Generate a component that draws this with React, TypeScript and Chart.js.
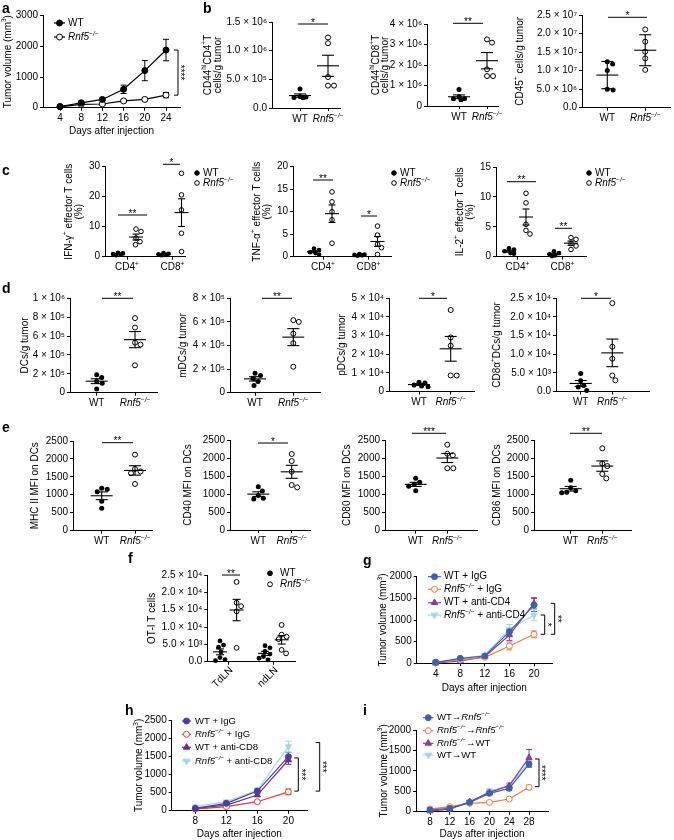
import React, { useEffect, useMemo, useRef } from 'react';
import { Chart, registerables } from 'chart.js';

Chart.register(...registerables);

const FONT = "'Liberation Sans', Arial, Helvetica, sans-serif";

/* ======================= DATA ======================= */
const genotypeCats = ['WT', '*Rnf5^{−/−}*'];
const subsetCats = ['CD4^{+}', 'CD8^{+}'];
const lnCats = ['TdLN', 'ndLN'];

// a – tumour growth
const aDays = [4, 8, 12, 16, 20, 24];
const aWT = [40, 160, 270, 600, 1210, 1880];
const aWTErr = [15, 30, 40, 135, 330, 350];
const aKO = [30, 110, 120, 220, 270, 410];
const aKOErr = [10, 20, 30, 40, 45, 85];
const aYTicks = [0, 1000, 2000, 3000];
const aYLabels = ['0', '1000', '2000', '3000'];

// b
const b1WT = [3.3e5, 2.0e5, 1.9e5, 1.85e5, 1.8e5];
const b1KO = [1.23e6, 1.13e6, 5.4e5, 3.9e5, 3.9e5];
const b1YTicks = [0, 5e5, 1e6, 1.5e6];
const b1YLabels = ['0.0', '5.0 × 10⁵', '1.0 × 10⁶', '1.5 × 10⁶'];
const b2WT = [8.0e5, 4.5e5, 3.5e5, 3.5e5, 3.0e5];
const b2KO = [3.25e6, 3.09e6, 1.79e6, 1.46e6, 1.46e6];
const b2YTicks = [0, 1e6, 2e6, 3e6, 4e6];
const b2YLabels = ['0', '1 × 10⁶', '2 × 10⁶', '3 × 10⁶', '4 × 10⁶'];
const b3WT = [1.24e7, 1.18e7, 1.0e7, 0.5e7, 0.48e7];
const b3KO = [2.11e7, 1.78e7, 1.51e7, 1.33e7, 1.02e7];
const b3YTicks = [0, 5e6, 1e7, 1.5e7, 2e7, 2.5e7];
const b3YLabels = ['0.0', '5.0 × 10⁶', '1.0 × 10⁷', '1.5 × 10⁷', '2.0 × 10⁷', '2.5 × 10⁷'];

// c – effector T cells (%)
const c1WT4 = [1.3, 1.1, 0.9, 0.7, 0.5];
const c1KO4 = [9.2, 8.4, 6.2, 5.0, 4.0];
const c1WT8 = [1.2, 1.0, 0.8, 0.6, 0.5];
const c1KO8 = [27.8, 20.6, 15.6, 7.8, 1.7];
const c1YTicks = [0, 10, 20, 30];
const c2WT4 = [1.8, 1.5, 1.0, 0.8, 0.5];
const c2KO4 = [14.4, 12.2, 10.0, 8.2, 3.0];
const c2WT8 = [0.6, 0.5, 0.4, 0.3, 0.2];
const c2KO8 = [6.8, 4.8, 2.8, 2.0, 0.5];
const c2YTicks = [0, 5, 10, 15, 20];
const c3WT4 = [1.4, 1.2, 0.9, 0.6, 0.5];
const c3KO4 = [10.6, 9.0, 5.4, 4.4, 3.8];
const c3WT8 = [0.9, 0.6, 0.4, 0.2, 0.1];
const c3KO8 = [3.2, 2.9, 2.2, 1.8, 1.2];
const c3YTicks = [0, 5, 10, 15];

// d – DC subsets
const d1WT = [1.9e5, 1.6e5, 1.2e5, 1.0e5, 0.4e5];
const d1KO = [7.9e5, 6.9e5, 5.3e5, 5.1e5, 2.9e5];
const d1YTicks = [0, 2e5, 4e5, 6e5, 8e5, 1e6];
const d1YLabels = ['0', '2 × 10⁵', '4 × 10⁵', '6 × 10⁵', '8 × 10⁵', '1 × 10⁶'];
const d2WT = [1.65e5, 1.45e5, 1.2e5, 0.95e5, 0.6e5];
const d2KO = [6.15e5, 6.0e5, 5.0e5, 4.2e5, 2.2e5];
const d2YTicks = [0, 2e5, 4e5, 6e5, 8e5];
const d2YLabels = ['0', '2 × 10⁵', '4 × 10⁵', '6 × 10⁵', '8 × 10⁵'];
const d3WT = [5.0e3, 4.5e3, 3.5e3, 3.0e3, 2.5e3];
const d3KO = [4.37e4, 2.9e4, 2.46e4, 0.86e4, 0.86e4];
const d3YTicks = [0, 1e4, 2e4, 3e4, 4e4, 5e4];
const d3YLabels = ['0', '1 × 10⁴', '2 × 10⁴', '3 × 10⁴', '4 × 10⁴', '5 × 10⁴'];
const d4WT = [4.8e3, 2.9e3, 1.6e3, 1.2e3, 0.3e3];
const d4KO = [2.37e4, 1.2e4, 8.8e3, 4.3e3, 3.0e3];
const d4YTicks = [0, 5e3, 1e4, 1.5e4, 2e4, 2.5e4];
const d4YLabels = ['0.0', '5.0 × 10³', '1.0 × 10⁴', '1.5 × 10⁴', '2.0 × 10⁴', '2.5 × 10⁴'];

// e – MFI on DCs
const e1WT = [1180, 1150, 1080, 820, 620];
const e1KO = [2120, 1720, 1650, 1600, 1300];
const e2WT = [1200, 1080, 960, 880, 860];
const e2KO = [2110, 1915, 1620, 1250, 1185];
const e3WT = [1440, 1330, 1280, 1220, 1100];
const e3KO = [2370, 2120, 2080, 1720, 1720];
const e4WT = [1390, 1180, 1100, 1060, 1040];
const e4KO = [2270, 1850, 1780, 1560, 1440];
const eYTicks = [0, 500, 1000, 1500, 2000, 2500];

// f – OT-I T cells
const fTdWT = [6.0e3, 4.8e3, 4.2e3, 2.8e3, 1.2e3, 0.6e3, 0.3e3];
const fTdKO = [2.3e4, 1.7e4, 1.6e4, 1.45e4, 4.0e3];
const fNdWT = [4.6e3, 4.0e3, 3.0e3, 2.2e3, 1.5e3, 1.0e3, 0.5e3];
const fNdKO = [1.06e4, 7.8e3, 7.2e3, 6.5e3, 3.4e3, 2.4e3];
const fYTicks = [0, 5e3, 1e4, 1.5e4, 2e4, 2.5e4];
const fYLabels = ['0.0', '5.0 × 10³', '1.0 × 10⁴', '1.5 × 10⁴', '2.0 × 10⁴', '2.5 × 10⁴'];

// g – CD4 depletion
const gDays = [4, 8, 12, 16, 20];
const gWTIgG = [23, 115, 169, 731, 1346];
const gWTIgGErr = [8, 20, 25, 90, 150];
const gKOIgG = [23, 77, 138, 400, 669];
const gKOIgGErr = [8, 15, 20, 90, 80];
const gWTcd4 = [2, 54, 154, 654, 1385];
const gWTcd4Err = [4, 12, 20, 130, 130];
const gKOcd4 = [23, 100, 192, 785, 1115];
const gKOcd4Err = [8, 20, 25, 110, 130];
const gYTicks = [0, 500, 1000, 1500, 2000];

// h – CD8 depletion
const hDays = [8, 12, 16, 20];
const hWTIgG = [64, 202, 542, 1489];
const hWTIgGErr = [15, 30, 50, 120];
const hKOIgG = [46, 110, 248, 520];
const hKOIgGErr = [10, 20, 30, 80];
const hWTcd8 = [64, 156, 432, 1397];
const hWTcd8Err = [12, 25, 40, 120];
const hKOcd8 = [110, 248, 570, 1765];
const hKOcd8Err = [20, 30, 50, 150];
const hYTicks = [0, 500, 1000, 1500, 2000, 2500];

// i – bone-marrow chimeras
const iDays = [8, 12, 16, 20, 24, 28];
const iWTtoKO = [41, 82, 229, 449, 571, 1167];
const iWTtoKOErr = [10, 15, 30, 40, 50, 80];
const iKOtoKO = [65, 122, 204, 229, 310, 596];
const iKOtoKOErr = [10, 15, 20, 25, 30, 50];
const iKOtoWT = [16, 65, 245, 473, 637, 1322];
const iKOtoWTErr = [8, 15, 30, 50, 60, 200];
const iWTtoWT = [49, 82, 204, 506, 629, 1208];
const iWTtoWTErr = [10, 15, 30, 50, 60, 100];
const iYTicks = [0, 500, 1000, 1500, 2000];

/* ======================= COLOURS ======================= */
const C_BLUE = '#3f5fab';
const C_ORANGE = '#ee7a45';
const C_PURPLE = '#8e3c9a';
const C_LBLUE = '#9fd6ec';
const C_INDIGO = '#4a3d9e';
const C_RED = '#e03c2e';
const C_DPURPLE = '#6f2d8c';

/* ======================= HELPERS ======================= */
const mean = (a: number[]) => a.reduce((s, v) => s + v, 0) / a.length;
const sd = (a: number[]) => {
  const m = mean(a);
  return Math.sqrt(a.reduce((s, v) => s + (v - m) * (v - m), 0) / (a.length - 1));
};
const sem = (a: number[]) => sd(a) / Math.sqrt(a.length);

type Seg = { t: string; it: boolean; sup: boolean };
function parseRich(s: string): Seg[] {
  const out: Seg[] = [];
  let it = false, sup = false, buf = '';
  const flush = () => { if (buf) out.push({ t: buf, it, sup }); buf = ''; };
  for (let i = 0; i < s.length; i++) {
    const c = s[i];
    if (c === '*' && s.length > 1 && !/^\*+$/.test(s)) { flush(); it = !it; continue; }
    if (c === '^' && s[i + 1] === '{') { flush(); sup = true; i++; continue; }
    if (c === '}' && sup) { flush(); sup = false; continue; }
    buf += c;
  }
  flush();
  return out;
}
function setFont(ctx: CanvasRenderingContext2D, size: number, it: boolean, bold = false) {
  ctx.font = `${it ? 'italic ' : ''}${bold ? 'bold ' : ''}${size}px ${FONT}`;
}
function drawRich(ctx: CanvasRenderingContext2D, text: string, x: number, y: number, size: number, align = 'center', color = '#000') {
  const segs = parseRich(text);
  let w = 0;
  for (const s of segs) { setFont(ctx, s.sup ? size * 0.65 : size, s.it); w += ctx.measureText(s.t).width; }
  let cx = align === 'center' ? x - w / 2 : align === 'right' ? x - w : x;
  ctx.save();
  ctx.fillStyle = color;
  ctx.textBaseline = 'middle';
  ctx.textAlign = 'left';
  for (const s of segs) {
    const fs = s.sup ? size * 0.65 : size;
    setFont(ctx, fs, s.it);
    ctx.fillText(s.t, cx, s.sup ? y - size * 0.33 : y);
    cx += ctx.measureText(s.t).width;
  }
  ctx.restore();
}
function drawRichRot(ctx: CanvasRenderingContext2D, text: string, x: number, y: number, size: number, ang: number, align = 'center') {
  ctx.save();
  ctx.translate(x, y);
  ctx.rotate(ang);
  drawRich(ctx, text, 0, 0, size, align);
  ctx.restore();
}
function drawStars(ctx: CanvasRenderingContext2D, t: string, cx: number, cy: number, rot: boolean) {
  ctx.save();
  ctx.fillStyle = '#000';
  ctx.font = `10px ${FONT}`;
  ctx.textAlign = 'center';
  ctx.textBaseline = 'alphabetic';
  if (rot) {
    ctx.translate(cx, cy);
    ctx.rotate(Math.PI / 2);
    ctx.fillText(t, 0, 5.7);
  } else {
    ctx.fillText(t, cx, cy + 5.7);
  }
  ctx.restore();
}
function seg(ctx: CanvasRenderingContext2D, xa: number, ya: number, xb: number, yb: number, color = '#000', lw = 1) {
  ctx.save();
  ctx.strokeStyle = color;
  ctx.lineWidth = lw;
  ctx.beginPath();
  ctx.moveTo(xa, ya);
  ctx.lineTo(xb, yb);
  ctx.stroke();
  ctx.restore();
}
function drawMarker(ctx: CanvasRenderingContext2D, kind: string, x: number, y: number, r: number, color: string, filled: boolean) {
  ctx.save();
  ctx.beginPath();
  if (kind === 'circle') ctx.arc(x, y, r, 0, Math.PI * 2);
  else {
    const d = kind === 'up' ? 1 : -1;
    const rr = r * 1.25;
    ctx.moveTo(x, y - d * rr);
    ctx.lineTo(x + rr * 0.866, y + d * rr * 0.5);
    ctx.lineTo(x - rr * 0.866, y + d * rr * 0.5);
    ctx.closePath();
  }
  ctx.fillStyle = filled ? color : '#fff';
  ctx.fill();
  ctx.strokeStyle = color;
  ctx.lineWidth = 1;
  ctx.stroke();
  ctx.restore();
}
// deterministic beeswarm: offsets in px for each value
function swarm(vals: number[], ppv: number, D: number, maxSpread: number): number[] {
  const order = vals.map((_, i) => i).sort((a, b) => vals[b] - vals[a]);
  const placed: { x: number; y: number }[] = [];
  const out = new Array(vals.length).fill(0);
  for (const i of order) {
    const y = vals[i] * ppv;
    let best = 0, bestD = -1;
    const cands: number[] = [0];
    for (let k = 0.5; k <= maxSpread + 1e-9; k += 0.5) { cands.push(k, -k); }
    for (const c of cands) {
      let md = Infinity;
      for (const p of placed) md = Math.min(md, Math.hypot(p.x - c, p.y - y));
      if (md >= D) { best = c; bestD = Infinity; break; }
      if (md > bestD) { bestD = md; best = c; }
    }
    placed.push({ x: best, y });
    out[i] = best;
  }
  return out;
}

function axisCommon() {
  return {
    grid: { display: true, drawOnChartArea: false, drawTicks: true, tickLength: 3, color: '#000', lineWidth: 1 },
    border: { display: true, color: '#000', width: 1 },
  };
}

type Built = { x: number; y: number; w: number; h: number; config: any };

/* ======================= DOT PLOT ======================= */
type DotGroup = { vals: number[]; cat: number; side: number; filled: boolean };
type DotSpec = {
  L: number; T: number; R: number; B: number;
  catPx: number[]; sidePx?: number;
  yMax: number; yTicks: number[]; yLabels: string[];
  groups: DotGroup[]; err?: string;
  cats: string[]; rotCats?: boolean;
  sig: { x1: number; x2: number; y: number; t: string }[];
  title: string[]; titleX: number; lineGap?: number;
  legend?: { x: number; y1: number; y2: number; tx: number };
  meanHalf?: number; capHalf?: number; r?: number; spread?: number;
};

function buildDot(sp: DotSpec): Built {
  const x0 = Math.max(0, Math.round(sp.L - 115));
  const y0 = Math.max(0, Math.round(sp.T - 30));
  const x1 = Math.min(674, Math.round(sp.R + 80));
  const y1 = Math.min(840, Math.round(sp.B + 50));
  const W = x1 - x0, H = y1 - y0;
  const XH = 15;
  const unit = sp.catPx[1] - sp.catPx[0];
  const xmin = (sp.L - sp.catPx[0]) / unit;
  const xmax = (sp.R - sp.catPx[0]) / unit;
  const side = (sp.sidePx || 0) / unit;
  const ppv = (sp.B - sp.T) / sp.yMax;
  const r = sp.r ?? 2.5;
  const mh = sp.meanHalf ?? 11, ch = sp.capHalf ?? 6;
  const gap = sp.lineGap ?? 10;
  const gx = (g: DotGroup) => g.cat + g.side * side;
  const datasets = sp.groups.map((g) => {
    const offs = swarm(g.vals, ppv, 2 * r + 0.6, sp.spread ?? 9);
    return {
      type: 'scatter',
      data: g.vals.map((v, i) => ({ x: gx(g) + offs[i] / unit, y: v })),
      pointRadius: r,
      pointHoverRadius: r,
      pointBackgroundColor: g.filled ? '#000' : 'rgba(0,0,0,0)',
      pointBorderColor: '#000',
      pointBorderWidth: g.filled ? 0 : 1,
      clip: false,
    };
  });
  const plugin = {
    id: 'dotDecor',
    beforeDatasetsDraw(chart: any) {
      const ctx = chart.ctx, xs = chart.scales.x, ys = chart.scales.y;
      sp.groups.forEach((g) => {
        const m = mean(g.vals);
        const e = sp.err === 'sd' ? sd(g.vals) : sem(g.vals);
        const cx = xs.getPixelForValue(gx(g));
        const ym = ys.getPixelForValue(m);
        const yt = ys.getPixelForValue(m + e);
        const yb = ys.getPixelForValue(Math.max(0, m - e));
        seg(ctx, cx - mh, ym, cx + mh, ym, '#000', 1.1);
        seg(ctx, cx, yt, cx, yb, '#000', 1.1);
        seg(ctx, cx - ch, yt, cx + ch, yt, '#000', 1.1);
        seg(ctx, cx - ch, yb, cx + ch, yb, '#000', 1.1);
      });
    },
    afterDraw(chart: any) {
      const ctx = chart.ctx, xs = chart.scales.x, ys = chart.scales.y;
      const base = ys.getPixelForValue(0);
      sp.cats.forEach((c, i) => {
        const px = xs.getPixelForValue(i);
        if (sp.rotCats) drawRichRot(ctx, c, px + 3, base + 7, 10, -Math.PI / 4, 'right');
        else drawRich(ctx, c, px, base + 11, 10, 'center');
      });
      sp.sig.forEach((s) => {
        seg(ctx, s.x1 - x0, s.y - y0, s.x2 - x0, s.y - y0, '#000', 1);
        drawStars(ctx, s.t, (s.x1 + s.x2) / 2 - x0, s.y - y0 - 4, false);
      });
      const cy = (sp.T + sp.B) / 2 - y0;
      sp.title.forEach((t, i) => drawRichRot(ctx, t, sp.titleX + i * gap - x0, cy, 10, -Math.PI / 2, 'center'));
      if (sp.legend) {
        const lg = sp.legend;
        drawMarker(ctx, 'circle', lg.x - x0, lg.y1 - y0, r, '#000', true);
        drawRich(ctx, genotypeCats[0], lg.tx - x0, lg.y1 - y0, 10, 'left');
        drawMarker(ctx, 'circle', lg.x - x0, lg.y2 - y0, r, '#000', false);
        drawRich(ctx, genotypeCats[1], lg.tx - x0, lg.y2 - y0, 10, 'left');
      }
    },
  };
  const ac = axisCommon();
  const config = {
    type: 'scatter',
    data: { datasets },
    options: {
      animation: false,
      responsive: false,
      devicePixelRatio: 1,
      events: [],
      layout: { padding: { left: 0, top: sp.T - y0, right: x1 - sp.R, bottom: y1 - sp.B - XH } },
      plugins: { legend: { display: false }, tooltip: { enabled: false } },
      scales: {
        x: {
          type: 'linear', position: 'bottom', min: xmin, max: xmax,
          afterBuildTicks: (s: any) => { s.ticks = sp.cats.map((_, i) => ({ value: i })); },
          afterFit: (s: any) => { s.height = XH; },
          ...ac,
          ticks: { display: false },
        },
        y: {
          type: 'linear', position: 'left', min: 0, max: sp.yMax,
          afterBuildTicks: (s: any) => { s.ticks = sp.yTicks.map((v) => ({ value: v })); },
          afterFit: (s: any) => { s.width = sp.L - x0; },
          ...ac,
          ticks: {
            display: true, autoSkip: false, padding: 2, color: '#000',
            font: { family: FONT, size: 10 },
            callback: (_v: any, i: number) => sp.yLabels[i] ?? '',
          },
        },
      },
    },
    plugins: [plugin],
  };
  return { x: x0, y: y0, w: W, h: H, config };
}

/* ======================= GROWTH CURVES ======================= */
type Series = { label: string; vals: number[]; errs: number[]; color: string; marker: string; filled: boolean };
type GrowthSpec = {
  L: number; T: number; R: number; B: number;
  d0: number; p0: number; d1: number; p1: number;
  days: number[]; yMax: number; yTicks: number[]; yLabels: string[];
  series: Series[];
  legend: { x0: number; x1: number; tx: number; ys: number[]; size: number };
  brackets: { x: number; top: number; bot: number; t: string }[];
  title: string; titleX: number; xTitleY: number; r: number;
};

function buildGrowth(sp: GrowthSpec): Built {
  const x0 = Math.max(0, Math.round(sp.L - 60));
  const y0 = Math.max(0, Math.round(sp.T - 30));
  const x1 = Math.min(674, Math.round(sp.R + 40));
  const y1 = Math.min(840, Math.round(sp.B + 34));
  const W = x1 - x0, H = y1 - y0;
  const XH = 16;
  const ppd = (sp.p1 - sp.p0) / (sp.d1 - sp.d0);
  const xmin = sp.d0 - (sp.p0 - sp.L) / ppd;
  const xmax = sp.d1 + (sp.R - sp.p1) / ppd;
  const datasets = sp.series.map((s) => ({
    type: 'line',
    label: s.label,
    data: sp.days.map((d, i) => ({ x: d, y: s.vals[i] })),
    borderColor: s.color,
    borderWidth: 1.2,
    pointStyle: s.marker === 'circle' ? 'circle' : 'triangle',
    rotation: s.marker === 'down' ? 180 : 0,
    pointRadius: s.marker === 'circle' ? sp.r : sp.r + 0.6,
    pointHoverRadius: sp.r,
    pointBackgroundColor: s.filled ? s.color : '#fff',
    pointBorderColor: s.color,
    pointBorderWidth: 1,
    tension: 0,
    fill: false,
    clip: false,
  }));
  const plugin = {
    id: 'growthDecor',
    beforeDatasetsDraw(chart: any) {
      const ctx = chart.ctx, xs = chart.scales.x, ys = chart.scales.y;
      sp.series.forEach((s) => {
        sp.days.forEach((d, i) => {
          const px = xs.getPixelForValue(d);
          const yt = ys.getPixelForValue(s.vals[i] + s.errs[i]);
          const yb = ys.getPixelForValue(Math.max(0, s.vals[i] - s.errs[i]));
          seg(ctx, px, yt, px, yb, s.color, 1);
          seg(ctx, px - 3, yt, px + 3, yt, s.color, 1);
          seg(ctx, px - 3, yb, px + 3, yb, s.color, 1);
        });
      });
    },
    afterDraw(chart: any) {
      const ctx = chart.ctx, ys = chart.scales.y;
      const lg = sp.legend;
      sp.series.forEach((s, i) => {
        const y = lg.ys[i] - y0;
        seg(ctx, lg.x0 - x0, y, lg.x1 - x0, y, s.color, 1.2);
        drawMarker(ctx, s.marker, (lg.x0 + lg.x1) / 2 - x0, y, sp.r, s.color, s.filled);
        drawRich(ctx, s.label, lg.tx - x0, y, lg.size, 'left');
      });
      sp.brackets.forEach((b) => {
        const yt = ys.getPixelForValue(b.top), yb = ys.getPixelForValue(b.bot);
        const bx = b.x - x0;
        seg(ctx, bx, yt, bx, yb, '#000', 1);
        seg(ctx, bx - 4, yt, bx, yt, '#000', 1);
        seg(ctx, bx - 4, yb, bx, yb, '#000', 1);
        drawStars(ctx, b.t, bx + 5, (yt + yb) / 2, true);
      });
      drawRichRot(ctx, sp.title, sp.titleX - x0, (sp.T + sp.B) / 2 - y0, 10, -Math.PI / 2, 'center');
      drawRich(ctx, 'Days after injection', (sp.L + sp.R) / 2 - x0, sp.xTitleY - y0, 10, 'center');
    },
  };
  const ac = axisCommon();
  const config = {
    type: 'line',
    data: { datasets },
    options: {
      animation: false,
      responsive: false,
      devicePixelRatio: 1,
      events: [],
      layout: { padding: { left: 0, top: sp.T - y0, right: x1 - sp.R, bottom: y1 - sp.B - XH } },
      plugins: { legend: { display: false }, tooltip: { enabled: false } },
      scales: {
        x: {
          type: 'linear', position: 'bottom', min: xmin, max: xmax,
          afterBuildTicks: (s: any) => { s.ticks = sp.days.map((v) => ({ value: v })); },
          afterFit: (s: any) => { s.height = XH; },
          ...ac,
          ticks: {
            display: true, autoSkip: false, maxRotation: 0, padding: 2, color: '#000',
            font: { family: FONT, size: 10 },
            callback: (v: any) => String(v),
          },
        },
        y: {
          type: 'linear', position: 'left', min: 0, max: sp.yMax,
          afterBuildTicks: (s: any) => { s.ticks = sp.yTicks.map((v) => ({ value: v })); },
          afterFit: (s: any) => { s.width = sp.L - x0; },
          ...ac,
          ticks: {
            display: true, autoSkip: false, padding: 2, color: '#000',
            font: { family: FONT, size: 10 },
            callback: (_v: any, i: number) => sp.yLabels[i] ?? '',
          },
        },
      },
    },
    plugins: [plugin],
  };
  return { x: x0, y: y0, w: W, h: H, config };
}

/* ======================= SPECS ======================= */
const two = (wt: number[], ko: number[]): DotGroup[] => [
  { vals: wt, cat: 0, side: 0, filled: true },
  { vals: ko, cat: 1, side: 0, filled: false },
];
const four = (wt4: number[], ko4: number[], wt8: number[], ko8: number[]): DotGroup[] => [
  { vals: wt4, cat: 0, side: -1, filled: true },
  { vals: ko4, cat: 0, side: 1, filled: false },
  { vals: wt8, cat: 1, side: -1, filled: true },
  { vals: ko8, cat: 1, side: 1, filled: false },
];
const lbl = (a: number[]) => a.map((v) => String(v));
const tumorTitle = 'Tumor volume (mm^{3})';

const builders: (() => Built)[] = [
  // a
  () => buildGrowth({
    L: 43, T: 15.7, R: 180, B: 107.7, d0: 4, p0: 60, d1: 24, p1: 166,
    days: aDays, yMax: 3000, yTicks: aYTicks, yLabels: aYLabels,
    series: [
      { label: genotypeCats[0], vals: aWT, errs: aWTErr, color: '#000', marker: 'circle', filled: true },
      { label: genotypeCats[1], vals: aKO, errs: aKOErr, color: '#000', marker: 'circle', filled: false },
    ],
    legend: { x0: 54, x1: 65, tx: 68, ys: [23, 37], size: 10 },
    brackets: [{ x: 178, top: aWT[5], bot: aKO[5], t: '****' }],
    title: tumorTitle, titleX: 8, xTitleY: 131, r: 3,
  }),
  // b
  () => buildDot({
    L: 272, T: 22, R: 340, B: 108, catPx: [300, 328], yMax: 1.5e6, yTicks: b1YTicks, yLabels: b1YLabels,
    groups: two(b1WT, b1KO), cats: genotypeCats, sig: [{ x1: 298, x2: 328, y: 24, t: '*' }],
    title: ['CD44^{hi}CD4^{+}T', 'cells/g tumor'], titleX: 208,
  }),
  () => buildDot({
    L: 427, T: 24, R: 498, B: 106, catPx: [459, 487], yMax: 4e6, yTicks: b2YTicks, yLabels: b2YLabels,
    groups: two(b2WT, b2KO), cats: genotypeCats, sig: [{ x1: 453, x2: 483, y: 23.3, t: '**' }],
    title: ['CD44^{hi}CD8^{+}T', 'cells/g tumor'], titleX: 376, lineGap: 9.5,
  }),
  () => buildDot({
    L: 582, T: 15, R: 673, B: 107.7, catPx: [608, 647], yMax: 2.5e7, yTicks: b3YTicks, yLabels: b3YLabels,
    groups: two(b3WT, b3KO), err: 'sd', cats: genotypeCats, sig: [{ x1: 608, x2: 647, y: 17.3, t: '*' }],
    title: ['CD45^{+} cells/g tumor'], titleX: 520,
  }),
  // c
  () => buildDot({
    L: 105, T: 166.7, R: 185, B: 256.7, catPx: [127, 172.5], sidePx: 9, yMax: 30, yTicks: c1YTicks, yLabels: lbl(c1YTicks),
    groups: four(c1WT4, c1KO4, c1WT8, c1KO8), cats: subsetCats,
    sig: [{ x1: 118, x2: 147, y: 215, t: '**' }, { x1: 163, x2: 180, y: 164.3, t: '*' }],
    title: ['IFN-γ^{+} effector T cells', '(%)'], titleX: 69,
    legend: { x: 197, y1: 173, y2: 183, tx: 203 }, meanHalf: 7, capHalf: 3.5, r: 2.3, spread: 5,
  }),
  () => buildDot({
    L: 293, T: 166.7, R: 391, B: 256.7, catPx: [323, 368.5], sidePx: 9, yMax: 20, yTicks: c2YTicks, yLabels: lbl(c2YTicks),
    groups: four(c2WT4, c2KO4, c2WT8, c2KO8), cats: subsetCats,
    sig: [{ x1: 313, x2: 333, y: 180, t: '**' }, { x1: 361, x2: 377, y: 216, t: '*' }],
    title: ['TNF-α^{+} effector T cells', '(%)'], titleX: 257,
    legend: { x: 394, y1: 173, y2: 183, tx: 400 }, meanHalf: 7, capHalf: 3.5, r: 2.3, spread: 5,
  }),
  () => buildDot({
    L: 496, T: 167, R: 586, B: 256.7, catPx: [517.5, 562.5], sidePx: 8.5, yMax: 15, yTicks: c3YTicks, yLabels: lbl(c3YTicks),
    groups: four(c3WT4, c3KO4, c3WT8, c3KO8), cats: subsetCats,
    sig: [{ x1: 507, x2: 536, y: 181.7, t: '**' }, { x1: 555, x2: 572, y: 228.3, t: '**' }],
    title: ['IL-2^{+} effector T cells', '(%)'], titleX: 460,
    legend: { x: 589, y1: 173, y2: 183, tx: 595 }, meanHalf: 7, capHalf: 3.5, r: 2.3, spread: 5,
  }),
  // d
  () => buildDot({
    L: 70, T: 298.3, R: 157, B: 392.7, catPx: [96.7, 135], yMax: 1e6, yTicks: d1YTicks, yLabels: d1YLabels,
    groups: two(d1WT, d1KO), cats: genotypeCats, sig: [{ x1: 102, x2: 133, y: 298.3, t: '**' }],
    title: ['DCs/g tumor'], titleX: 25,
  }),
  () => buildDot({
    L: 230, T: 298.3, R: 320, B: 392.7, catPx: [255, 293.3], yMax: 8e5, yTicks: d2YTicks, yLabels: d2YLabels,
    groups: two(d2WT, d2KO), cats: genotypeCats, sig: [{ x1: 262, x2: 292, y: 298.3, t: '**' }],
    title: ['mDCs/g tumor'], titleX: 183,
  }),
  () => buildDot({
    L: 389, T: 298.3, R: 474, B: 391.5, catPx: [419, 450.7], yMax: 5e4, yTicks: d3YTicks, yLabels: d3YLabels,
    groups: two(d3WT, d3KO), cats: genotypeCats, sig: [{ x1: 419, x2: 447, y: 298.3, t: '*' }],
    title: ['pDCs/g tumor'], titleX: 342,
  }),
  () => buildDot({
    L: 556, T: 298.3, R: 649, B: 391.5, catPx: [580.7, 612.3], yMax: 2.5e4, yTicks: d4YTicks, yLabels: d4YLabels,
    groups: two(d4WT, d4KO), cats: genotypeCats, sig: [{ x1: 581, x2: 611, y: 298.3, t: '*' }],
    title: ['CD8α^{+}DCs/g tumor'], titleX: 497,
  }),
  // e
  () => buildDot({
    L: 73, T: 441, R: 152, B: 530.5, catPx: [101.7, 135], yMax: 2500, yTicks: eYTicks, yLabels: lbl(eYTicks),
    groups: two(e1WT, e1KO), cats: genotypeCats, sig: [{ x1: 102, x2: 133, y: 442.7, t: '**' }],
    title: ['MHC II MFI on DCs'], titleX: 35,
  }),
  () => buildDot({
    L: 230, T: 440, R: 310, B: 530, catPx: [258.3, 291.7], yMax: 2500, yTicks: eYTicks, yLabels: lbl(eYTicks),
    groups: two(e2WT, e2KO), cats: genotypeCats, sig: [{ x1: 258, x2: 288, y: 443, t: '*' }],
    title: ['CD40 MFI on DCs'], titleX: 188,
  }),
  () => buildDot({
    L: 385, T: 440, R: 477, B: 530.5, catPx: [415.7, 447.3], yMax: 2500, yTicks: eYTicks, yLabels: lbl(eYTicks),
    groups: two(e3WT, e3KO), cats: genotypeCats, sig: [{ x1: 412, x2: 446, y: 433.3, t: '***' }],
    title: ['CD80 MFI on DCs'], titleX: 347,
  }),
  () => buildDot({
    L: 534, T: 440, R: 631, B: 530.5, catPx: [570.7, 602.3], yMax: 2500, yTicks: eYTicks, yLabels: lbl(eYTicks),
    groups: two(e4WT, e4KO), cats: genotypeCats, sig: [{ x1: 570, x2: 602, y: 433.3, t: '**' }],
    title: ['CD86 MFI on DCs'], titleX: 497,
  }),
  // f
  () => buildDot({
    L: 207.3, T: 575, R: 295, B: 661.7, catPx: [228.3, 273.3], sidePx: 8.3, yMax: 2.5e4, yTicks: fYTicks, yLabels: fYLabels,
    groups: four(fTdWT, fTdKO, fNdWT, fNdKO), cats: lnCats, rotCats: true,
    sig: [{ x1: 222, x2: 240, y: 575, t: '**' }],
    title: ['OT-I T cells'], titleX: 152.7,
    legend: { x: 270, y1: 573.3, y2: 584.3, tx: 280 }, meanHalf: 7, capHalf: 4, r: 2.4, spread: 6,
  }),
  // g
  () => buildGrowth({
    L: 416.7, T: 576.7, R: 552, B: 663.3, d0: 4, p0: 435.7, d1: 20, p1: 534,
    days: gDays, yMax: 2000, yTicks: gYTicks, yLabels: lbl(gYTicks),
    series: [
      { label: 'WT + IgG', vals: gWTIgG, errs: gWTIgGErr, color: C_BLUE, marker: 'circle', filled: true },
      { label: '*Rnf5^{−/−}* + IgG', vals: gKOIgG, errs: gKOIgGErr, color: C_ORANGE, marker: 'circle', filled: false },
      { label: 'WT + anti-CD4', vals: gWTcd4, errs: gWTcd4Err, color: C_PURPLE, marker: 'up', filled: true },
      { label: '*Rnf5^{−/−}* + anti-CD4', vals: gKOcd4, errs: gKOcd4Err, color: C_LBLUE, marker: 'down', filled: true },
    ],
    legend: { x0: 428, x1: 441, tx: 444, ys: [576.7, 589.3, 602.7, 615], size: 10 },
    brackets: [
      { x: 544.7, top: gKOcd4[4], bot: gKOIgG[4], t: '*' },
      { x: 554.7, top: gWTcd4[4], bot: gKOIgG[4], t: '**' },
    ],
    title: tumorTitle, titleX: 383.3, xTitleY: 688, r: 3,
  }),
  // h
  () => buildGrowth({
    L: 171.7, T: 720, R: 307, B: 810.7, d0: 8, p0: 195.3, d1: 20, p1: 288.4,
    days: hDays, yMax: 2500, yTicks: hYTicks, yLabels: lbl(hYTicks),
    series: [
      { label: 'WT + IgG', vals: hWTIgG, errs: hWTIgGErr, color: C_INDIGO, marker: 'circle', filled: true },
      { label: '*Rnf5^{−/−}* + IgG', vals: hKOIgG, errs: hKOIgGErr, color: C_RED, marker: 'circle', filled: false },
      { label: 'WT + anti-CD8', vals: hWTcd8, errs: hWTcd8Err, color: C_DPURPLE, marker: 'up', filled: true },
      { label: '*Rnf5^{−/−}* + anti-CD8', vals: hKOcd8, errs: hKOcd8Err, color: C_LBLUE, marker: 'down', filled: true },
    ],
    legend: { x0: 182, x1: 191, tx: 195, ys: [721, 734.3, 747.3, 761], size: 9.5 },
    brackets: [
      { x: 298.3, top: 1455, bot: 540, t: '***' },
      { x: 319.7, top: 1880, bot: 540, t: '***' },
    ],
    title: tumorTitle, titleX: 139.5, xTitleY: 834, r: 3,
  }),
  // i
  () => buildGrowth({
    L: 416, T: 730, R: 548, B: 811.7, d0: 8, p0: 430, d1: 28, p1: 529,
    days: iDays, yMax: 2000, yTicks: iYTicks, yLabels: lbl(iYTicks),
    series: [
      { label: 'WT→*Rnf5^{−/−}*', vals: iWTtoKO, errs: iWTtoKOErr, color: C_BLUE, marker: 'circle', filled: true },
      { label: '*Rnf5^{−/−}*→*Rnf5^{−/−}*', vals: iKOtoKO, errs: iKOtoKOErr, color: C_ORANGE, marker: 'circle', filled: false },
      { label: '*Rnf5^{−/−}*→WT', vals: iKOtoWT, errs: iKOtoWTErr, color: C_PURPLE, marker: 'up', filled: true },
      { label: 'WT→WT', vals: iWTtoWT, errs: iWTtoWTErr, color: C_LBLUE, marker: 'down', filled: true },
    ],
    legend: { x0: 423, x1: 433.5, tx: 437, ys: [717.7, 730.7, 743.3, 755], size: 9.5 },
    brackets: [{ x: 539, top: 1290, bot: 612, t: '****' }],
    title: tumorTitle, titleX: 384, xTitleY: 834, r: 3,
  }),
];

const panelLetters = [
  { t: 'a', x: 2, y: 1 }, { t: 'b', x: 203, y: 1 }, { t: 'c', x: 2, y: 163 },
  { t: 'd', x: 2, y: 281 }, { t: 'e', x: 2, y: 420 }, { t: 'f', x: 128, y: 551 },
  { t: 'g', x: 363, y: 553 }, { t: 'h', x: 125, y: 703 }, { t: 'i', x: 363, y: 703 },
];

function ChartBox({ build }: { build: () => Built }) {
  const ref = useRef<HTMLCanvasElement | null>(null);
  const b = useMemo(build, [build]);
  useEffect(() => {
    if (!ref.current) return;
    const chart = new Chart(ref.current, b.config);
    return () => chart.destroy();
  }, [b]);
  return (
    <canvas
      ref={ref}
      width={b.w}
      height={b.h}
      style={{ position: 'absolute', left: b.x, top: b.y, width: b.w, height: b.h }}
    />
  );
}

export default function App() {
  return (
    <div style={{ position: 'absolute', left: 0, top: 0, width: 674, height: 840, background: '#fff', overflow: 'hidden' }}>
      {builders.map((f, i) => <ChartBox key={i} build={f} />)}
      {panelLetters.map((p) => (
        <div
          key={p.t}
          style={{ position: 'absolute', left: p.x, top: p.y, font: `bold 14px ${FONT}`, lineHeight: '14px', color: '#000' }}
        >
          {p.t}
        </div>
      ))}
    </div>
  );
}
